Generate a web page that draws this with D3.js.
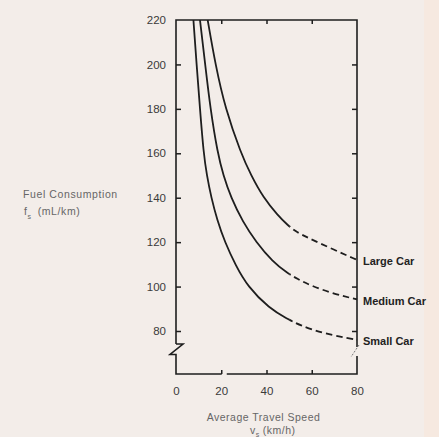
<!DOCTYPE html>
<html>
<head>
<meta charset="utf-8">
<script src="https://cdn.jsdelivr.net/npm/d3@7"></script>
<style>
  html, body { margin: 0; padding: 0; background: #f3ede9; }
  svg { display: block; }
  text { font-family: "Liberation Sans", Arial, sans-serif; }
</style>
</head>
<body>
<svg width="439" height="437"></svg>
<script>
// values (speed km/h, fuel mL/km)
var carNames = ["Large Car", "Medium Car", "Small Car"];
var largeSpeed = [14, 17.4, 21.8, 28.7, 33.1, 38.6, 44.9, 49.3, 53, 58.2, 68.5, 80];
var largeFuel  = [220, 200, 180, 160, 150.2, 140, 132.2, 127.7, 124.7, 122, 117.2, 112];
var mediumSpeed = [10.6, 12.9, 15.2, 18.4, 20.9, 24.3, 29.5, 35.4, 42.7, 49.3, 53.8, 58.9, 69.2, 80];
var mediumFuel  = [220, 200, 180, 160, 150.2, 140, 129.2, 120, 111.2, 106, 103.4, 100.7, 96.9, 94.2];
var smallSpeed = [7.7, 9.1, 10.6, 12.2, 13.6, 15.6, 18.2, 21.6, 26.3, 31.7, 41.2, 49.3, 54.5, 64.8, 75.1, 80];
var smallFuel  = [220, 200, 180, 160, 150.2, 140, 130, 120, 109.7, 100, 90.2, 85.4, 82.7, 79, 77, 76];
var dashFrom = 50;   // curves are dashed beyond this speed
var yTicks = [80, 100, 120, 140, 160, 180, 200, 220];
var xTicks = [0, 20, 40, 60, 80];

var series = [
  {name: carNames[0], speed: largeSpeed, fuel: largeFuel},
  {name: carNames[1], speed: mediumSpeed, fuel: mediumFuel},
  {name: carNames[2], speed: smallSpeed, fuel: smallFuel}
];

var svg = d3.select("svg");
svg.append("rect").attr("x", 424).attr("y", 0).attr("width", 15).attr("height", 437)
  .attr("fill", "#f6e9e0");

var xScale = d3.scaleLinear().domain([0, 80]).range([176, 357]);
var yScale = d3.scaleLinear().domain([80, 220]).range([331, 20]);
var bottomY = 374;
var ink = "#1e1e1e";

// axes (ticks point inward)
var leftAxis = svg.append("g")
  .attr("transform", "translate(" + xScale(0) + ",0)")
  .call(d3.axisLeft(yScale).tickValues(yTicks).tickSizeInner(-5).tickSizeOuter(0).tickPadding(10));
var rightAxis = svg.append("g")
  .attr("transform", "translate(" + xScale(80) + ",0)")
  .call(d3.axisRight(yScale).tickValues(yTicks.slice(0, -1)).tickSizeInner(-5).tickSizeOuter(0).tickFormat(""));
var topAxis = svg.append("g")
  .attr("transform", "translate(0," + yScale(220) + ")")
  .call(d3.axisTop(xScale).tickValues([20, 40, 60]).tickSizeInner(-4).tickSizeOuter(0).tickFormat(""));
var bottomAxis = svg.append("g")
  .attr("transform", "translate(0," + bottomY + ")")
  .call(d3.axisBottom(xScale).tickValues(xTicks).tickSizeInner(-4).tickSizeOuter(0).tickPadding(13));

[leftAxis, rightAxis, topAxis, bottomAxis].forEach(function(a) {
  a.select(".domain").remove();
  a.selectAll("line").attr("stroke", ink).attr("stroke-width", 1.5);
  a.selectAll("text").attr("fill", "#3a3a3a").style("font-size", "11.5px");
});
// no tick marks at the frame corners
bottomAxis.selectAll(".tick").filter(function(d) { return d === 0 || d === 80; })
  .select("line").remove();
leftAxis.selectAll(".tick").filter(function(d) { return d === 220; }).select("line").remove();

// frame with axis breaks
var x0 = xScale(0), x80 = xScale(80), yTop = yScale(220);
var frame = svg.append("g").attr("fill", "none").attr("stroke", ink)
  .attr("stroke-width", 1.6).attr("stroke-linejoin", "miter");
frame.append("path").attr("d", d3.line()([
  [x0, 344], [x0, yTop], [x80, yTop], [x80, 347]
]));
frame.append("path").attr("d", d3.line()([
  [x0, 344], [x0 + 7, 344], [x0 - 6, 354.5], [x0, 354.5], [x0, bottomY], [xScale(20) + 0.5, bottomY]
]));
frame.append("path").attr("d", d3.line()([
  [xScale(20) + 5.5, bottomY], [x80, bottomY], [x80, 356]
]));
svg.append("path").attr("d", d3.line()([[x80 + 2, 345], [x80 - 6, 357]]))
  .attr("stroke", "#777").attr("stroke-width", 1).attr("stroke-dasharray", "2,1.5");

// clip regions for solid / dashed parts
var defs = svg.append("defs");
defs.append("clipPath").attr("id", "solidClip").append("rect")
  .attr("x", 0).attr("y", yTop).attr("width", xScale(dashFrom)).attr("height", 400);
defs.append("clipPath").attr("id", "dashClip").append("rect")
  .attr("x", xScale(dashFrom)).attr("y", yTop).attr("width", 200).attr("height", 400);

// traced points are a little noisy, so smooth them with a B-spline
var line = d3.line()
  .x(function(d) { return xScale(d[0]); })
  .y(function(d) { return yScale(d[1]); })
  .curve(d3.curveBasis);

series.forEach(function(s) {
  var pts = s.speed.map(function(v, i) { return [v, s.fuel[i]]; });
  svg.append("path").attr("d", line(pts)).attr("fill", "none")
    .attr("stroke", ink).attr("stroke-width", 1.8).attr("clip-path", "url(#solidClip)");
  svg.append("path").attr("d", line(pts)).attr("fill", "none")
    .attr("stroke", ink).attr("stroke-width", 1.8).attr("stroke-dasharray", "6.5,4")
    .attr("clip-path", "url(#dashClip)");
  svg.append("text")
    .attr("x", x80 + 6)
    .attr("y", yScale(s.fuel[s.fuel.length - 1]) + 1.5)
    .attr("dy", "0.35em")
    .attr("fill", "#222")
    .style("font-size", "11px")
    .style("font-weight", "bold")
    .text(s.name);
});

// axis titles
var yTitle = svg.append("text").attr("fill", "#666").style("font-size", "10.5px")
  .style("letter-spacing", "0.6px");
yTitle.append("tspan").attr("x", 23).attr("y", 198).text("Fuel Consumption");
var yt2 = svg.append("text").attr("fill", "#666").style("font-size", "10.5px")
  .style("letter-spacing", "0.6px").attr("x", 24).attr("y", 215);
yt2.append("tspan").text("f");
yt2.append("tspan").attr("dy", 4).style("font-size", "7px").text("s");
yt2.append("tspan").attr("dy", -4).attr("dx", 6).text("(mL/km)");

svg.append("text").attr("x", (x0 + x80) / 2 - 3).attr("y", 421)
  .attr("text-anchor", "middle").attr("fill", "#666").style("font-size", "10.5px")
  .style("letter-spacing", "0.5px").text("Average Travel Speed");
var xt2 = svg.append("text").attr("x", 250).attr("y", 434)
  .attr("fill", "#666").style("font-size", "10.5px").style("letter-spacing", "0.5px");
xt2.append("tspan").text("v");
xt2.append("tspan").attr("dy", 3).style("font-size", "7px").text("s");
xt2.append("tspan").attr("dy", -3).attr("dx", 3).text("(km/h)");
</script>
</body>
</html>
